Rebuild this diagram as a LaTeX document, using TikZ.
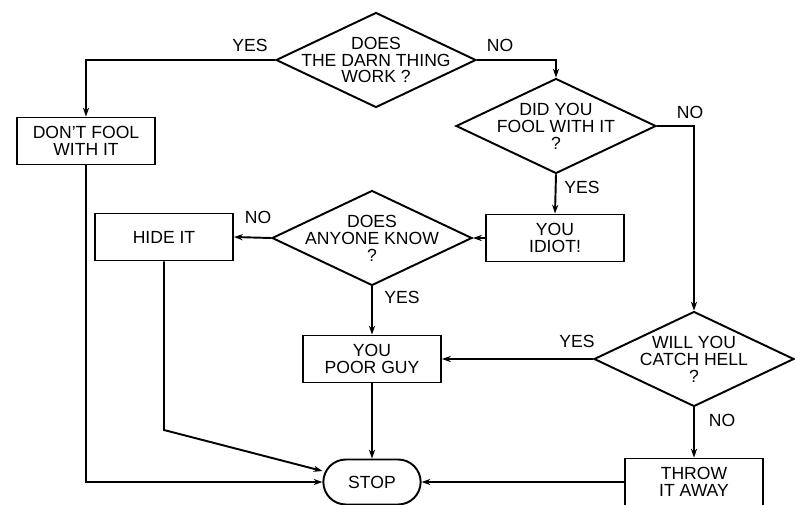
\documentclass[tikz,border=0pt]{standalone}
\usepackage{fontspec}
\setmainfont{Liberation Sans}
\usetikzlibrary{arrows.meta,shapes.geometric,shapes.misc,positioning}

\begin{document}
\begin{tikzpicture}[
        line width=1.1pt,
        every node/.style={font=\fontsize{10}{9.6}\selectfont},
        box/.style={draw,rectangle,align=center,
                    minimum width=2.76cm,minimum height=0.94cm},
        decision/.style={draw,diamond,inner sep=0pt,
                    minimum width=4cm,minimum height=1.9cm},
        qtext/.style={align=center},
        term/.style={draw,rounded rectangle,
                    minimum width=2.18cm,minimum height=0.9cm},
        answer/.style={inner sep=1pt},
        flow/.style={-{Stealth[length=5pt,width=3.5pt]}}]
        \useasboundingbox (0,0) rectangle (15.9,-10.1);
        % questions
        \node[decision,label={[qtext]center:{DOES\\THE DARN THING\\WORK ?}}]
          (work) at (7.52,-1.20) {};
        \node[decision,label={[qtext]center:{DID YOU\\FOOL WITH IT\\?}}]
          (fooled) at (11.12,-2.52) {};
        \node[decision,label={[qtext]center:{DOES\\ANYONE KNOW\\?}}]
          (anyone) at (7.44,-4.76) {};
        \node[decision,label={[qtext]center:{WILL YOU\\CATCH HELL\\?}}]
          (hell) at (13.88,-7.18) {};
        % actions
        \node[box] (dontfool) at (1.72,-2.82) {DON'T FOOL\\WITH IT};
        \node[box] (idiot)    at (11.10,-4.76) {YOU\\IDIOT!};
        \node[box] (hide)     at (3.28,-4.74) {HIDE IT};
        \node[box] (poorguy)  at (7.44,-7.18) {YOU\\POOR GUY};
        \node[box] (throw)    at (13.88,-9.64) {THROW\\IT AWAY};
        \node[term] (stop)    at (7.44,-9.64) {STOP};
        % answers
        \node[answer] (yes1) at (5.00,-0.90) {YES};
        \node[answer] (no1)  at (10.00,-0.90) {NO};
        \node[answer] (no2)  at (13.80,-2.24) {NO};
        \node[answer] (yes2) at (11.64,-3.74) {YES};
        \node[answer] (no3)  at (5.16,-4.34) {NO};
        \node[answer] (yes3) at (8.04,-5.94) {YES};
        \node[answer] (yes4) at (11.54,-6.82) {YES};
        \node[answer] (no4)  at (14.44,-8.40) {NO};
        \coordinate (hidebend) at (3.28,-8.60);
        % connectors
        \draw[flow] (work.west) -| (dontfool.north);
        \draw[flow] (work.east) -| (fooled.north);
        \draw[flow] (fooled.east) -| (hell.north);
        \draw[flow] (fooled.south) -- (idiot.north);
        \draw[flow] (idiot.west) -- (anyone.east);
        \draw[flow] (anyone.west) -- (hide.east);
        \draw[flow] (anyone.south) -- (poorguy.north);
        \draw[flow] (hell.west) -- (poorguy.east);
        \draw[flow] (hell.south) -- (throw.north);
        \draw[flow] (throw.west) -- (stop.east);
        \draw[flow] (poorguy.south) -- (stop.north);
        \draw[flow] (hide.south) -- (hidebend) -- ([yshift=0.22cm]stop.west);
        \draw[flow] (dontfool.south) |- (stop.west);
      \end{tikzpicture}
\end{document}
